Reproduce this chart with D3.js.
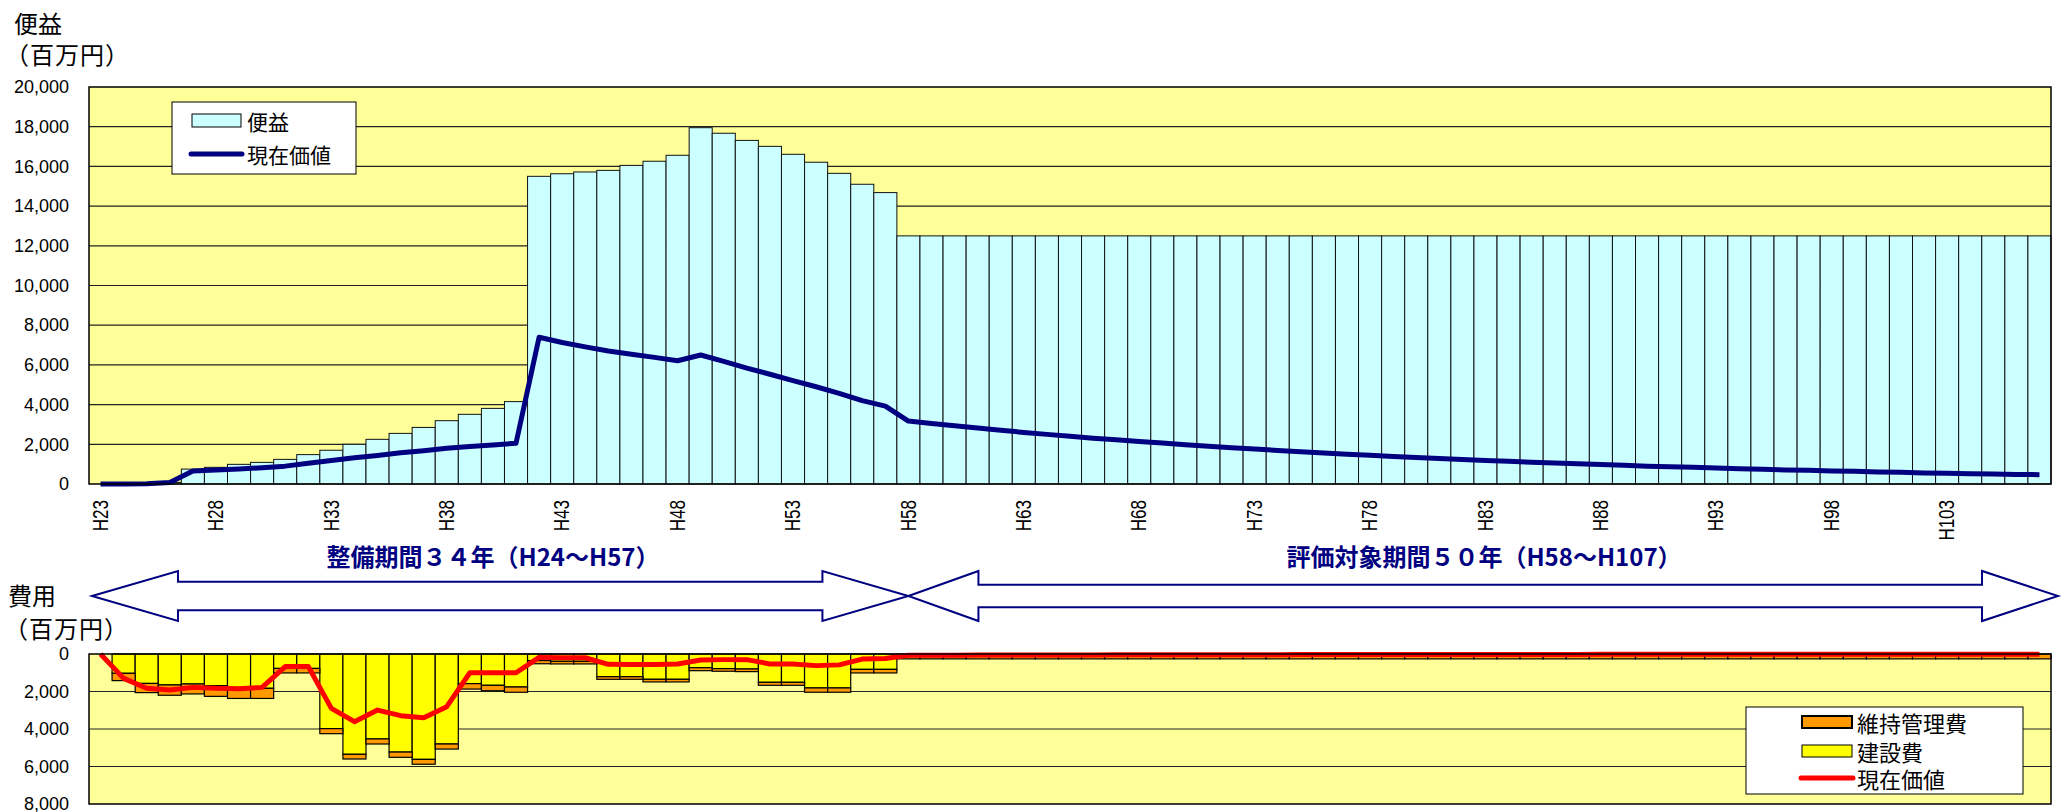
<!DOCTYPE html>
<html lang="ja">
<head>
<meta charset="UTF-8">
<script src="https://cdn.jsdelivr.net/npm/d3@7"></script>
<title>便益・費用</title>
<style>
  * { box-sizing: border-box; margin: 0; padding: 0; }
  body { background: #fff; }
  svg text { font-family: "Liberation Sans", Arial, sans-serif; }
  svg .jp { font-family: "Noto Sans CJK JP", sans-serif; }
</style>
</head>
<body>
<svg id="chart" width="2062" height="812"></svg>
<script>
var years = [
  'H23','H24','H25','H26','H27','H28','H29','H30','H31','H32',
  'H33','H34','H35','H36','H37','H38','H39','H40','H41','H42',
  'H43','H44','H45','H46','H47','H48','H49','H50','H51','H52',
  'H53','H54','H55','H56','H57','H58','H59','H60','H61','H62',
  'H63','H64','H65','H66','H67','H68','H69','H70','H71','H72',
  'H73','H74','H75','H76','H77','H78','H79','H80','H81','H82',
  'H83','H84','H85','H86','H87','H88','H89','H90','H91','H92',
  'H93','H94','H95','H96','H97','H98','H99','H100','H101','H102',
  'H103','H104','H105','H106','H107'
];

// 便益 (百万円)
var benefit = [
  0, 0, 0, 80, 750, 840, 990, 1090, 1240, 1480,
  1700, 2000, 2250, 2550, 2850, 3190, 3510, 3810, 4150, 15500,
  15630, 15720, 15800, 16050, 16260, 16560, 17950, 17670, 17310, 17010,
  16610, 16210, 15650, 15100, 14680, 12500, 12500, 12500, 12500, 12500,
  12500, 12500, 12500, 12500, 12500, 12500, 12500, 12500, 12500, 12500,
  12500, 12500, 12500, 12500, 12500, 12500, 12500, 12500, 12500, 12500,
  12500, 12500, 12500, 12500, 12500, 12500, 12500, 12500, 12500, 12500,
  12500, 12500, 12500, 12500, 12500, 12500, 12500, 12500, 12500, 12500,
  12500, 12500, 12500, 12500, 12500
];

// 便益の現在価値
var benefitPV = [
  0, 0, 10, 70, 650, 700, 760, 820, 900, 1040,
  1180, 1320, 1440, 1570, 1680, 1800, 1890, 1970, 2050, 7390,
  7130, 6910, 6700, 6540, 6380, 6210, 6500, 6180, 5840, 5530,
  5210, 4900, 4570, 4200, 3920, 3170, 3050, 2930, 2820, 2710,
  2600, 2500, 2410, 2310, 2230, 2140, 2060, 1980, 1900, 1830,
  1760, 1690, 1630, 1560, 1500, 1450, 1390, 1340, 1290, 1240,
  1190, 1140, 1100, 1060, 1020, 980, 940, 900, 870, 840,
  800, 770, 740, 710, 690, 660, 640, 610, 590, 560,
  540, 520, 500, 480, 470
];

// 建設費
var construction = [
  0, 1030, 1570, 1650, 1600, 1690, 1800, 1830, 770, 770,
  3980, 5350, 4530, 5230, 5620, 4800, 1580, 1670, 1760, 350,
  390, 390, 1210, 1210, 1350, 1350, 730, 780, 800, 1510,
  1510, 1810, 1810, 820, 820, 0, 0, 0, 0, 0,
  0, 0, 0, 0, 0, 0, 0, 0, 0, 0,
  0, 0, 0, 0, 0, 0, 0, 0, 0, 0,
  0, 0, 0, 0, 0, 0, 0, 0, 0, 0,
  0, 0, 0, 0, 0, 0, 0, 0, 0, 0,
  0, 0, 0, 0, 0
];

// 維持管理費
var maintenance = [
  0, 390, 490, 550, 530, 570, 570, 540, 240, 240,
  270, 250, 270, 280, 260, 270, 290, 290, 280, 170,
  140, 140, 140, 140, 140, 140, 160, 140, 140, 160,
  160, 230, 230, 190, 190, 260, 260, 260, 260, 260,
  260, 260, 260, 260, 260, 260, 260, 260, 260, 260,
  260, 260, 260, 260, 260, 260, 260, 260, 260, 260,
  260, 260, 260, 260, 260, 260, 260, 260, 260, 260,
  260, 260, 260, 260, 260, 260, 260, 260, 260, 260,
  260, 260, 260, 260, 260
];

// 費用の現在価値
var costPV = [
  0, 1300, 1830, 1920, 1780, 1830, 1850, 1780, 670, 670,
  2900, 3610, 2990, 3290, 3400, 2810, 1000, 1000, 1000, 180,
  200, 200, 550, 560, 560, 530, 320, 300, 300, 530,
  530, 620, 580, 270, 240, 65, 62, 60, 57, 55,
  53, 51, 49, 47, 45, 43, 41, 40, 38, 37,
  35, 34, 32, 31, 30, 29, 27, 26, 25, 24,
  23, 22, 21, 21, 20, 19, 18, 17, 17, 16,
  15, 15, 14, 14, 13, 13, 12, 12, 11, 11,
  10, 10, 10, 9, 9
];

var benefitTicks = [0, 2000, 4000, 6000, 8000, 10000, 12000, 14000, 16000, 18000, 20000];
var costTicks = [0, 2000, 4000, 6000, 8000];
var yearTicks = ['H23','H28','H33','H38','H43','H48','H53','H58','H63','H68',
                 'H73','H78','H83','H88','H93','H98','H103'];

var svg = d3.select('#chart');
var left = 89, right = 2051;
var navy = '#000080';

var x = d3.scaleBand().domain(years).range([left, right]).padding(0);
var bw = x.bandwidth();
var yTop = d3.scaleLinear().domain([0, 20000]).range([484, 87]);
var yBot = d3.scaleLinear().domain([0, 8000]).range([654, 804]);

function cx(i) { return x(years[i]) + bw / 2; }

// ---------- 便益 chart ----------
svg.append('rect')
  .attr('x', left).attr('y', yTop(20000))
  .attr('width', right - left).attr('height', yTop(0) - yTop(20000))
  .attr('fill', '#ffff99');

svg.append('g').selectAll('line')
  .data(benefitTicks.slice(1, -1))
  .join('line')
  .attr('x1', left).attr('x2', right)
  .attr('y1', d => yTop(d)).attr('y2', d => yTop(d))
  .attr('stroke', '#222').attr('stroke-width', 1.2);

svg.append('g').selectAll('rect')
  .data(years.map((y, i) => ({ year: y, v: benefit[i] })).filter(d => d.v > 0))
  .join('rect')
  .attr('x', d => x(d.year)).attr('width', bw)
  .attr('y', d => yTop(d.v)).attr('height', d => yTop(0) - yTop(d.v))
  .attr('fill', '#ccffff').attr('stroke', '#111').attr('stroke-width', 1);

svg.append('path')
  .datum(benefitPV)
  .attr('d', d3.line().x((d, i) => cx(i)).y(d => yTop(d)))
  .attr('fill', 'none').attr('stroke', navy).attr('stroke-width', 5)
  .attr('stroke-linejoin', 'round');

svg.append('rect')
  .attr('x', left).attr('y', yTop(20000))
  .attr('width', right - left).attr('height', yTop(0) - yTop(20000))
  .attr('fill', 'none').attr('stroke', '#000').attr('stroke-width', 1.5);

svg.append('g')
  .attr('transform', 'translate(' + left + ',0)')
  .call(d3.axisLeft(yTop).tickValues(benefitTicks).tickFormat(d3.format(',')).tickSize(0).tickPadding(20))
  .call(g => g.select('.domain').remove())
  .call(g => g.selectAll('text').attr('font-size', 18).attr('font-family', '"Liberation Sans", Arial, sans-serif').attr('fill', '#000'));

svg.append('g').selectAll('text')
  .data(yearTicks)
  .join('text')
  .attr('transform', d => 'translate(' + (x(d) + bw / 2) + ',500) scale(1.25,1) rotate(-90)')
  .attr('text-anchor', 'end')
  .attr('dominant-baseline', 'central')
  .attr('font-size', 17)
  .text(d => d);

// legend (便益)
var lg1 = svg.append('g');
lg1.append('rect').attr('x', 172).attr('y', 102).attr('width', 184).attr('height', 72)
  .attr('fill', '#fff').attr('stroke', '#000').attr('stroke-width', 1);
lg1.append('rect').attr('x', 192).attr('y', 114).attr('width', 49).attr('height', 13)
  .attr('fill', '#ccffff').attr('stroke', '#000').attr('stroke-width', 1);
lg1.append('line').attr('x1', 191).attr('x2', 242).attr('y1', 154).attr('y2', 154)
  .attr('stroke', navy).attr('stroke-width', 5).attr('stroke-linecap', 'round');
lg1.append('text').attr('class', 'jp').attr('x', 247).attr('y', 121)
  .attr('dominant-baseline', 'central').attr('font-size', 21).text('便益');
lg1.append('text').attr('class', 'jp').attr('x', 247).attr('y', 154)
  .attr('dominant-baseline', 'central').attr('font-size', 21).text('現在価値');

// axis titles
svg.append('text').attr('class', 'jp').attr('x', 14).attr('y', 22)
  .attr('dominant-baseline', 'central').attr('font-size', 24).text('便益');
svg.append('text').attr('class', 'jp').attr('x', 5).attr('y', 53)
  .attr('dominant-baseline', 'central').attr('font-size', 24).attr('letter-spacing', 1).text('（百万円）');
svg.append('text').attr('class', 'jp').attr('x', 8).attr('y', 594)
  .attr('dominant-baseline', 'central').attr('font-size', 24).text('費用');
svg.append('text').attr('class', 'jp').attr('x', 4).attr('y', 627)
  .attr('dominant-baseline', 'central').attr('font-size', 24).attr('letter-spacing', 1).text('（百万円）');

// ---------- period arrows ----------
function arrowPath(x0, x1, cy, headL, headR, headH, shaftH) {
  var p = d3.path();
  p.moveTo(x0, cy);
  p.lineTo(x0 + headL, cy - headH);
  p.lineTo(x0 + headL, cy - shaftH);
  p.lineTo(x1 - headR, cy - shaftH);
  p.lineTo(x1 - headR, cy - headH);
  p.lineTo(x1, cy);
  p.lineTo(x1 - headR, cy + headH);
  p.lineTo(x1 - headR, cy + shaftH);
  p.lineTo(x0 + headL, cy + shaftH);
  p.lineTo(x0 + headL, cy + headH);
  p.closePath();
  return p.toString();
}
var meet = x('H58') + bw / 2;
var arrowY = 596;
svg.append('path')
  .attr('d', arrowPath(left + 3, meet, arrowY, 86, 86, 25, 14.3))
  .attr('fill', '#fff').attr('stroke', navy).attr('stroke-width', 2);
svg.append('path')
  .attr('d', arrowPath(meet, right + 7, arrowY, 70, 76, 25, 11.3))
  .attr('fill', '#fff').attr('stroke', navy).attr('stroke-width', 2);

svg.append('text').attr('class', 'jp').attr('x', 493).attr('y', 555)
  .attr('text-anchor', 'middle').attr('dominant-baseline', 'central')
  .attr('font-size', 24).attr('font-weight', 'bold').attr('fill', navy)
  .text('整備期間３４年（H24～H57）');
svg.append('text').attr('class', 'jp').attr('x', 1484).attr('y', 555)
  .attr('text-anchor', 'middle').attr('dominant-baseline', 'central')
  .attr('font-size', 24).attr('font-weight', 'bold').attr('fill', navy)
  .text('評価対象期間５０年（H58～H107）');

// ---------- 費用 chart ----------
svg.append('rect')
  .attr('x', left).attr('y', yBot(0))
  .attr('width', right - left).attr('height', yBot(8000) - yBot(0))
  .attr('fill', '#ffff99');

svg.append('g').selectAll('line')
  .data(costTicks.slice(1, -1))
  .join('line')
  .attr('x1', left).attr('x2', right)
  .attr('y1', d => yBot(d)).attr('y2', d => yBot(d))
  .attr('stroke', '#222').attr('stroke-width', 1.2);

var costRows = years.map((y, i) => ({ year: y, construction: construction[i], maintenance: maintenance[i] }));
var stack = d3.stack().keys(['construction', 'maintenance'])(costRows);
var costColors = { construction: '#ffff00', maintenance: '#ff9900' };

svg.append('g').selectAll('g')
  .data(stack)
  .join('g')
  .attr('fill', d => costColors[d.key])
  .selectAll('rect')
  .data(d => d.filter(s => s[1] - s[0] > 0))
  .join('rect')
  .attr('x', d => x(d.data.year)).attr('width', bw)
  .attr('y', d => yBot(d[0])).attr('height', d => yBot(d[1]) - yBot(d[0]))
  .attr('stroke', '#000').attr('stroke-width', 1.2);

svg.append('path')
  .datum(costPV)
  .attr('d', d3.line().x((d, i) => cx(i)).y(d => yBot(d)))
  .attr('fill', 'none').attr('stroke', '#ff0000').attr('stroke-width', 5)
  .attr('stroke-linejoin', 'round');

svg.append('rect')
  .attr('x', left).attr('y', yBot(0))
  .attr('width', right - left).attr('height', yBot(8000) - yBot(0))
  .attr('fill', 'none').attr('stroke', '#000').attr('stroke-width', 1.5);

svg.append('g')
  .attr('transform', 'translate(' + left + ',0)')
  .call(d3.axisLeft(yBot).tickValues(costTicks).tickFormat(d3.format(',')).tickSize(0).tickPadding(20))
  .call(g => g.select('.domain').remove())
  .call(g => g.selectAll('text').attr('font-size', 18).attr('font-family', '"Liberation Sans", Arial, sans-serif').attr('fill', '#000'));

// legend (費用)
var lg2 = svg.append('g');
lg2.append('rect').attr('x', 1746).attr('y', 707).attr('width', 277).attr('height', 87)
  .attr('fill', '#fff').attr('stroke', '#000').attr('stroke-width', 1);
lg2.append('rect').attr('x', 1802).attr('y', 716).attr('width', 50).attr('height', 12)
  .attr('fill', '#ff9900').attr('stroke', '#000').attr('stroke-width', 2);
lg2.append('rect').attr('x', 1802).attr('y', 745).attr('width', 50).attr('height', 12)
  .attr('fill', '#ffff00').attr('stroke', '#000').attr('stroke-width', 1);
lg2.append('line').attr('x1', 1801).attr('x2', 1853).attr('y1', 778).attr('y2', 778)
  .attr('stroke', '#ff0000').attr('stroke-width', 5).attr('stroke-linecap', 'round');
[['維持管理費', 722], ['建設費', 751], ['現在価値', 778]].forEach(function (t) {
  lg2.append('text').attr('class', 'jp').attr('x', 1857).attr('y', t[1])
    .attr('dominant-baseline', 'central').attr('font-size', 22).text(t[0]);
});
</script>
</body>
</html>
